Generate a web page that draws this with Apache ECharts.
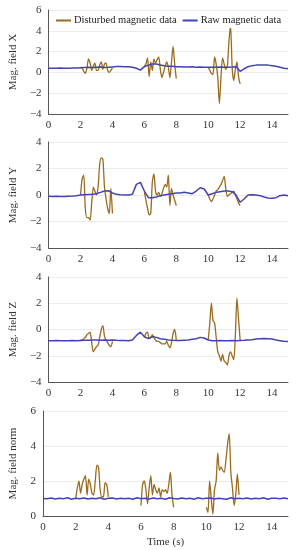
<!DOCTYPE html>
<html><head><meta charset="utf-8">
<script src="https://cdn.jsdelivr.net/npm/echarts@6/dist/echarts.min.js"></script>
<style>html,body{margin:0;padding:0;background:#fff}#c{width:298px;height:550px}</style>
</head><body><div id="c"></div>
<script>
// time stamps (s)
var tRaw = [0,0.25,0.5,0.75,1,1.25,1.5,1.75,2,2.25,2.5,2.75,3,3.25,3.5,3.75,4,4.25,4.5,4.75,5,5.25,5.5,5.75,6,6.25,6.5,6.75,7,7.25,7.5,7.75,8,8.25,8.5,8.75,9,9.25,9.5,9.75,10,10.25,10.5,10.75,11,11.25,11.5,11.75,12,12.25,12.5,12.75,13,13.25,13.5,13.75,14,14.25,14.5,14.75,15];
var tSeg1 = [2.0,2.1,2.2,2.3,2.4,2.5,2.6,2.7,2.8,2.9,3.0,3.1,3.2,3.3,3.4,3.5,3.6,3.7,3.8,3.9,4.0];
var tSeg2 = [6.0,6.1,6.2,6.3,6.4,6.5,6.6,6.7,6.8,6.9,7.0,7.1,7.2,7.3,7.4,7.5,7.6,7.7,7.8,7.9,8.0];
var tSeg3 = [10.0,10.1,10.2,10.3,10.4,10.5,10.6,10.7,10.8,10.9,11.0,11.1,11.2,11.3,11.4,11.5,11.6,11.7,11.8,11.9,12.0];

// raw magnetic data
var rawX = [0.40,0.41,0.40,0.42,0.40,0.41,0.43,0.42,0.45, 0.48,0.50,0.47,0.50,0.52,0.48,0.50,0.53, 0.56,0.57,0.55,0.55,0.50,0.40,0.22,0.55, 0.70,0.80,0.80,0.72,0.65,0.60,0.58,0.55, 0.55,0.53,0.52,0.54,0.50,0.52,0.50,0.50, 0.50,0.50,0.52,0.50,0.50,0.52,0.55,0.10, 0.35,0.55,0.65,0.70,0.72,0.70,0.70,0.65, 0.60,0.50,0.40,0.35];
var rawY = [-0.10,-0.12,-0.10,-0.11,-0.12,-0.10,-0.08,-0.05,0.00, 0.02,0.04,0.05,0.10,0.20,0.30,0.32,0.15, 0.05,0.02,0.00,0.00,0.05,0.80,0.95,0.30, -0.20,-0.20,-0.15,-0.05,0.00,0.05,0.10,0.15, 0.15,0.20,0.15,0.10,0.30,0.55,0.45,0.00, 0.10,0.20,0.25,0.30,0.30,0.25,0.00,-0.55, -0.30,0.00,0.02,0.00,-0.05,-0.15,-0.22,-0.25, -0.20,-0.05,0.00,-0.05];
var rawZ = [-0.85,-0.86,-0.84,-0.85,-0.86,-0.85,-0.84,-0.85,-0.83, -0.82,-0.82,-0.80,-0.80,-0.82,-0.80,-0.81,-0.80, -0.82,-0.83,-0.84,-0.85,-0.80,-0.45,-0.20,-0.55, -0.70,-0.55,-0.60,-0.70,-0.75,-0.80,-0.82,-0.83, -0.84,-0.82,-0.80,-0.75,-0.70,-0.60,-0.65,-0.80, -0.85,-0.86,-0.84,-0.85,-0.85,-0.84,-0.85,-0.83, -0.82,-0.80,-0.78,-0.72,-0.70,-0.68,-0.70,-0.72, -0.80,-0.85,-0.90,-0.92];
var rawN = [1.00,0.98,1.03,0.97,1.02,0.99,1.04,0.96,1.01, 0.98,1.03,0.97,1.02,0.99,1.04,0.96,1.01, 1.03,0.97,1.02,0.98,1.01,0.96,1.04,0.99, 1.02,0.97,1.03,0.98,1.01,0.96,1.04,1.00, 0.97,1.03,0.99,1.02,0.96,1.04,0.98,1.01, 1.03,0.97,1.02,0.99,0.96,1.04,0.98,1.01, 0.99,1.03,0.97,1.02,0.98,1.04,0.96,1.01, 1.02,0.98,1.03,0.99];

// disturbed magnetic data (three disturbance windows)
var disX1 = [0.5,0.4,0.1,-0.1,0.4,1.3,0.9,0.2,0.6,0.9,0.2,0.2,0.7,1.0,0.3,0.8,0.9,0.2,0.0,0.2,0.4];
var disX2 = [0.6,0.8,1.4,-0.4,1.0,0.2,1.3,0.9,1.2,1.5,0.3,-0.5,0.0,0.6,1.0,0.5,-0.5,1.0,2.5,0.8,-0.6];
var disX3 = [0.5,0.2,-0.1,-0.2,1.5,0.8,-0.5,-3.0,-0.5,1.4,0.8,0.3,0.6,3.0,4.5,0.5,-0.8,0.3,1.0,-0.4,-1.1];
var disY1 = [0.0,1.2,1.5,-1.0,-1.7,-1.7,-1.9,-0.6,0.6,0.3,0.0,0.6,2.3,2.8,2.7,0.6,-0.3,-1.0,-1.4,0.5,-1.4];
var disY2 = [0.2,-0.4,-1.0,-1.5,-1.4,1.0,1.6,0.3,0.0,0.2,-0.1,0.1,0.5,0.8,0.6,1.5,-0.8,0.5,0.0,-0.4,-0.8];
var disY3 = [0.0,-0.3,-0.5,-0.3,0.0,0.3,0.4,0.6,0.8,1.1,1.4,0.5,-0.1,0.0,0.1,0.2,0.3,0.0,-0.3,-0.6,-0.8];
var disZ1 = [-0.8,-0.8,-0.7,-0.6,-0.4,-0.3,-0.2,-1.0,-1.7,-1.5,-1.3,-1.2,-0.6,0.0,0.3,-0.5,-0.8,-1.0,-1.2,-1.3,-0.9];
var disZ2 = [-0.6,-0.3,-0.2,-0.7,-0.6,-0.4,-0.6,-0.8,-0.9,-0.9,-1.0,-1.1,-1.1,-1.1,-0.9,-1.2,-1.4,-1.0,-0.3,0.0,-0.8];
var disZ3 = [-0.8,0.5,2.0,0.7,0.5,-0.6,-1.7,-2.0,-2.4,-1.9,-2.4,-2.5,-2.7,-2.0,-1.7,-2.0,-2.3,-0.5,2.4,0.8,-0.8];
var disN1 = [1.0,1.6,2.0,1.3,1.8,2.1,2.3,1.2,2.1,1.8,1.3,1.2,2.0,2.9,2.8,1.5,1.1,1.1,1.9,1.8,1.1];
var disN2 = [0.6,1.8,2.0,1.5,0.7,1.6,2.3,1.2,1.8,1.5,1.3,1.6,1.1,1.5,1.4,1.5,1.3,1.8,2.5,1.2,0.5];
var disN3 = [0.5,0.2,2.0,1.0,0.1,1.5,2.0,3.6,2.6,2.8,2.6,2.5,3.2,4.1,4.7,2.5,1.6,0.6,1.2,2.4,1.2];

// axes
var yNames = ['Mag. field X','Mag. field Y','Mag. field Z','Mag. field norm'];
var yMin = [-4,-4,-4,0];
var yMax = [6,4,4,6];
var xTicks = [0,2,4,6,8,10,12,14];

var DIS = 'Disturbed magnetic data', RAW = 'Raw magnetic data';
var cDis = '#9a6b1f', cRaw = '#4343b3';
var FONT = 'Liberation Serif';

function pairs(t, v){ return t.map(function(x,i){return [x, v[i]];}); }

var tops = [10,142,277,411], heights = [104,106,105,105];
var grids=[], xAxes=[], yAxes=[], series=[];
var rawAll=[rawX,rawY,rawZ,rawN];
var disAll=[[disX1,disX2,disX3],[disY1,disY2,disY3],[disZ1,disZ2,disZ3],[disN1,disN2,disN3]];
var segT=[tSeg1,tSeg2,tSeg3];
for (var k=0;k<4;k++){
  grids.push({left:42,right:10,top:tops[k],height:heights[k]});
  xAxes.push({type:'value',gridIndex:k,min:0,max:15,interval:2,
    axisLine:{onZero:false,lineStyle:{color:'#555',width:1}},
    axisTick:{show:false},
    splitLine:{show:false},
    axisLabel:{showMaxLabel:false,color:'#333',fontFamily:FONT,fontSize:11,margin:6},
    name: k===3?'Time (s)':'', nameLocation:'middle', nameGap:21,
    nameTextStyle:{color:'#333',fontFamily:FONT,fontSize:11}});
  yAxes.push({type:'value',gridIndex:k,min:yMin[k],max:yMax[k],interval:2,
    axisLine:{show:true,onZero:false,lineStyle:{color:'#555',width:1}},
    axisTick:{show:false},
    splitLine:{show:true,lineStyle:{color:'#ececec',width:1}},
    axisLabel:{color:'#333',fontFamily:FONT,fontSize:11,margin:7,
      formatter:function(v){return v<0?'\u2212'+Math.abs(v):String(v);}},
    name:yNames[k],nameLocation:'middle',nameGap:24,
    nameTextStyle:{color:'#333',fontFamily:FONT,fontSize:11}});
  for (var s=0;s<3;s++){
    series.push({name:DIS,type:'line',xAxisIndex:k,yAxisIndex:k,showSymbol:false,symbol:'none',
      smooth:0.25,data:pairs(segT[s],disAll[k][s]),lineStyle:{color:cDis,width:1.3},itemStyle:{color:cDis},z:2,animation:false});
  }
  series.push({name:RAW,type:'line',xAxisIndex:k,yAxisIndex:k,showSymbol:false,symbol:'none',
    data:pairs(tRaw,rawAll[k]),lineStyle:{color:cRaw,width:1.5},itemStyle:{color:cRaw},z:3,animation:false});
}

var chart = echarts.init(document.getElementById('c'),null,{renderer:'canvas'});
chart.setOption({
  animation:false,
  backgroundColor:'#fff',
  legend:{data:[DIS,RAW],left:53,top:13,itemWidth:15,itemHeight:2,itemGap:5,padding:[2,2],
    backgroundColor:'#fff',
    textStyle:{fontFamily:FONT,fontSize:10.5,color:'#222',padding:[0,0,0,-2]}},
  grid:grids,xAxis:xAxes,yAxis:yAxes,series:series
});
</script></body></html>
